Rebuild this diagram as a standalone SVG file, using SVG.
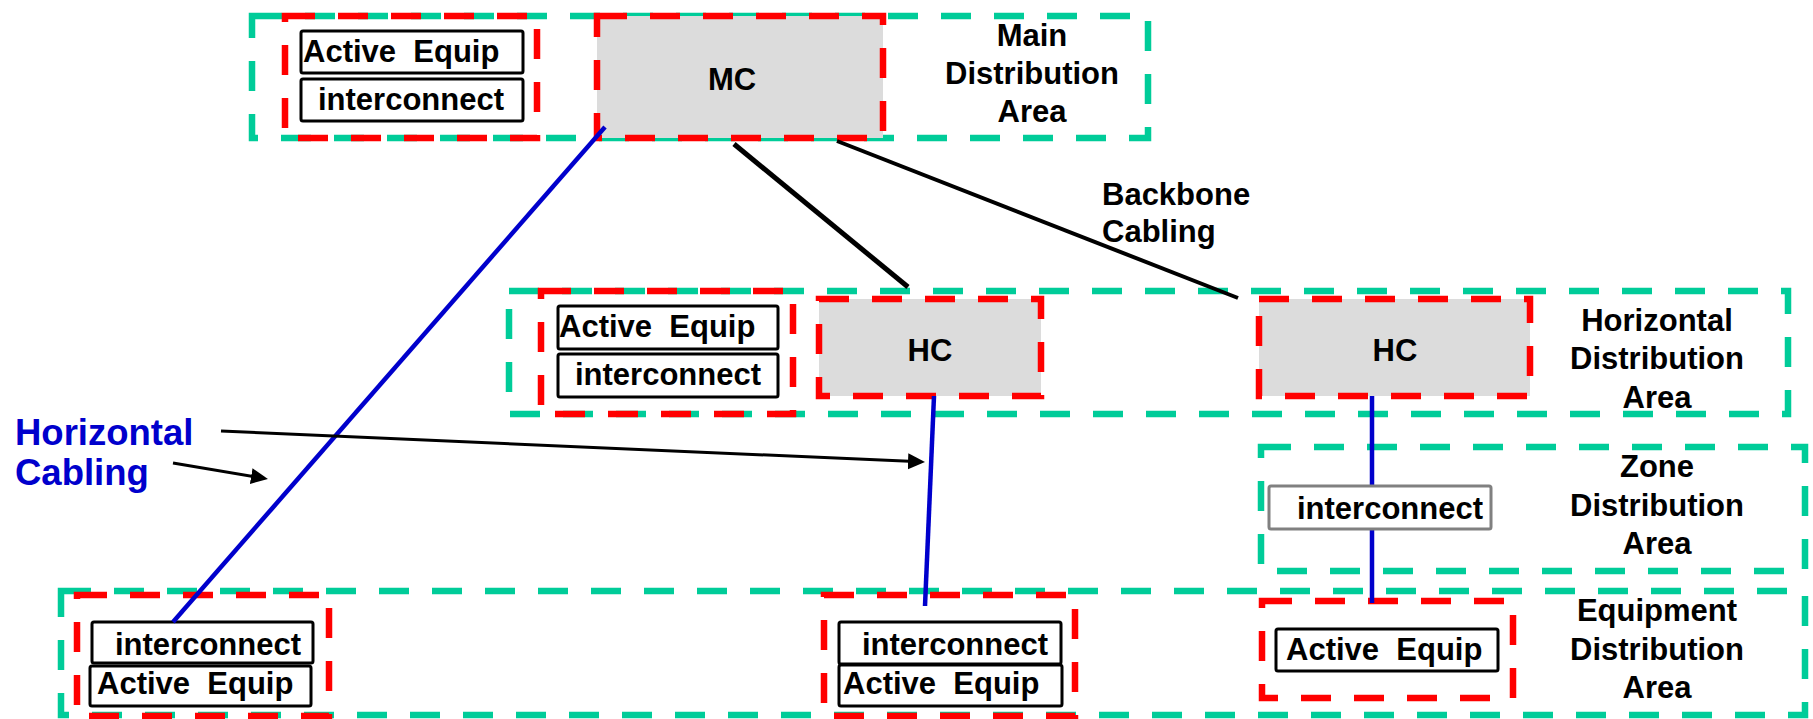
<svg xmlns="http://www.w3.org/2000/svg" width="1813" height="719" viewBox="0 0 1813 719">
  <style>
    .area { fill: none; stroke: #00CC99; stroke-width: 6.5; stroke-dasharray: 30 23; }
    .frame { fill: none; stroke: #FF0000; stroke-width: 6.5; stroke-dasharray: 30 23; }
    .core { fill: #DCDCDC; }
    .box { fill: #FFFFFF; stroke: #000000; stroke-width: 3; }
    .box-grey { fill: #FFFFFF; stroke: #808080; stroke-width: 3; }
    .t { font-family: "Liberation Sans", Arial, sans-serif; font-weight: bold; font-size: 31px; fill: #000000; }
    .c { text-anchor: middle; }
    .blue { fill: #0000CC; font-size: 36.5px; }
    .hcable { fill: none; stroke: #0000CC; stroke-width: 4.5; }
    .backbone { fill: none; stroke: #000000; }
    .pointer { fill: none; stroke: #000000; stroke-width: 3; marker-end: url(#arrow); }
  </style>
  <defs>
    <marker id="arrow" markerUnits="userSpaceOnUse" markerWidth="18" markerHeight="18" refX="7" refY="8" orient="auto">
      <path d="M0,0 L17,8 L0,16 z" fill="#000000"/>
    </marker>
  </defs>
  <rect width="1813" height="719" fill="#FFFFFF"/>

  <!-- Main distribution area -->
  <g id="main-distribution-area">
    <rect class="area" x="252" y="16" width="896" height="122"/>
    <text class="t c" x="1032" y="46">Main</text>
    <text class="t c" x="1032" y="84">Distribution</text>
    <text class="t c" x="1032" y="122">Area</text>
  </g>
  <g id="mda-equipment">
    <rect class="frame" x="285" y="16" width="252" height="122"/>
    <rect class="box" x="301" y="31" width="222" height="42" rx="2"/>
    <text class="t" x="303" y="62" xml:space="preserve">Active  Equip</text>
    <rect class="box" x="301" y="79" width="222" height="42" rx="2"/>
    <text class="t" x="318" y="110">interconnect</text>
  </g>
  <g id="mc">
    <rect class="core" x="597" y="16" width="286" height="122"/>
    <rect class="frame" x="597" y="16" width="286" height="122"/>
    <text class="t c" x="732" y="90">MC</text>
  </g>

  <!-- Horizontal distribution area -->
  <g id="horizontal-distribution-area">
    <rect class="area" x="509" y="291" width="1279" height="123"/>
    <text class="t c" x="1657" y="331">Horizontal</text>
    <text class="t c" x="1657" y="369">Distribution</text>
    <text class="t c" x="1657" y="408">Area</text>
  </g>
  <g id="hda-equipment">
    <rect class="frame" x="541" y="291" width="252" height="123"/>
    <rect class="box" x="558" y="306" width="220" height="43" rx="2"/>
    <text class="t" x="559" y="337" xml:space="preserve">Active  Equip</text>
    <rect class="box" x="558" y="354" width="220" height="43" rx="2"/>
    <text class="t" x="575" y="385">interconnect</text>
  </g>
  <g id="hc-1">
    <rect class="core" x="819" y="299" width="222" height="97"/>
    <rect class="frame" x="819" y="299" width="222" height="97"/>
    <text class="t c" x="930" y="361">HC</text>
  </g>
  <g id="hc-2">
    <rect class="core" x="1259" y="299" width="271" height="97"/>
    <rect class="frame" x="1259" y="299" width="271" height="97"/>
    <text class="t c" x="1395" y="361">HC</text>
  </g>

  <!-- Zone distribution area -->
  <g id="zone-distribution-area">
    <rect class="area" x="1261" y="447" width="544" height="124"/>
    <text class="t c" x="1657" y="477">Zone</text>
    <text class="t c" x="1657" y="516">Distribution</text>
    <text class="t c" x="1657" y="554">Area</text>
  </g>

  <!-- Equipment distribution area -->
  <g id="equipment-distribution-area">
    <rect class="area" x="61" y="591" width="1744" height="124"/>
    <text class="t c" x="1657" y="621">Equipment</text>
    <text class="t c" x="1657" y="660">Distribution</text>
    <text class="t c" x="1657" y="698">Area</text>
  </g>
  <g id="eda-equipment-1">
    <rect class="frame" x="77" y="595" width="252" height="121"/>
    <rect class="box" x="92" y="622" width="221" height="41" rx="2"/>
    <text class="t" x="115" y="655">interconnect</text>
    <rect class="box" x="90" y="666" width="221" height="40" rx="2"/>
    <text class="t" x="97" y="694" xml:space="preserve">Active  Equip</text>
  </g>
  <g id="eda-equipment-2">
    <rect class="frame" x="824" y="595" width="251" height="121"/>
    <rect class="box" x="839" y="622" width="222" height="42" rx="2"/>
    <text class="t" x="862" y="655">interconnect</text>
    <rect class="box" x="839" y="665" width="223" height="41" rx="2"/>
    <text class="t" x="843" y="694" xml:space="preserve">Active  Equip</text>
  </g>
  <g id="eda-equipment-3">
    <rect class="frame" x="1262" y="601" width="251" height="97"/>
    <rect class="box" x="1276" y="629" width="222" height="42" rx="2"/>
    <text class="t" x="1286" y="660" xml:space="preserve">Active  Equip</text>
  </g>

  <!-- Cabling -->
  <g id="connectors">
    <path class="hcable" d="M605,127 L173,622"/>
    <path class="hcable" d="M934,396 L925,606"/>
    <path class="hcable" d="M1372,396 L1372,603"/>
    <path class="backbone" stroke-width="5" d="M734,144 L908,287"/>
    <path class="backbone" stroke-width="4" d="M837,141 L1238,298"/>
    <path class="pointer" d="M221,431 L915,461.6"/>
    <path class="pointer" d="M173,463 L258.1,477.3"/>
  </g>

  <!-- Zone interconnect sits over the horizontal cable -->
  <g id="zda-interconnect">
    <rect class="box-grey" x="1269" y="486" width="222" height="43" rx="2"/>
    <text class="t" x="1297" y="519">interconnect</text>
  </g>

  <g id="labels">
    <text class="t" x="1102" y="205">Backbone</text>
    <text class="t" x="1102" y="242">Cabling</text>
    <text class="t blue" x="15" y="445">Horizontal</text>
    <text class="t blue" x="15" y="485">Cabling</text>
  </g>
</svg>
